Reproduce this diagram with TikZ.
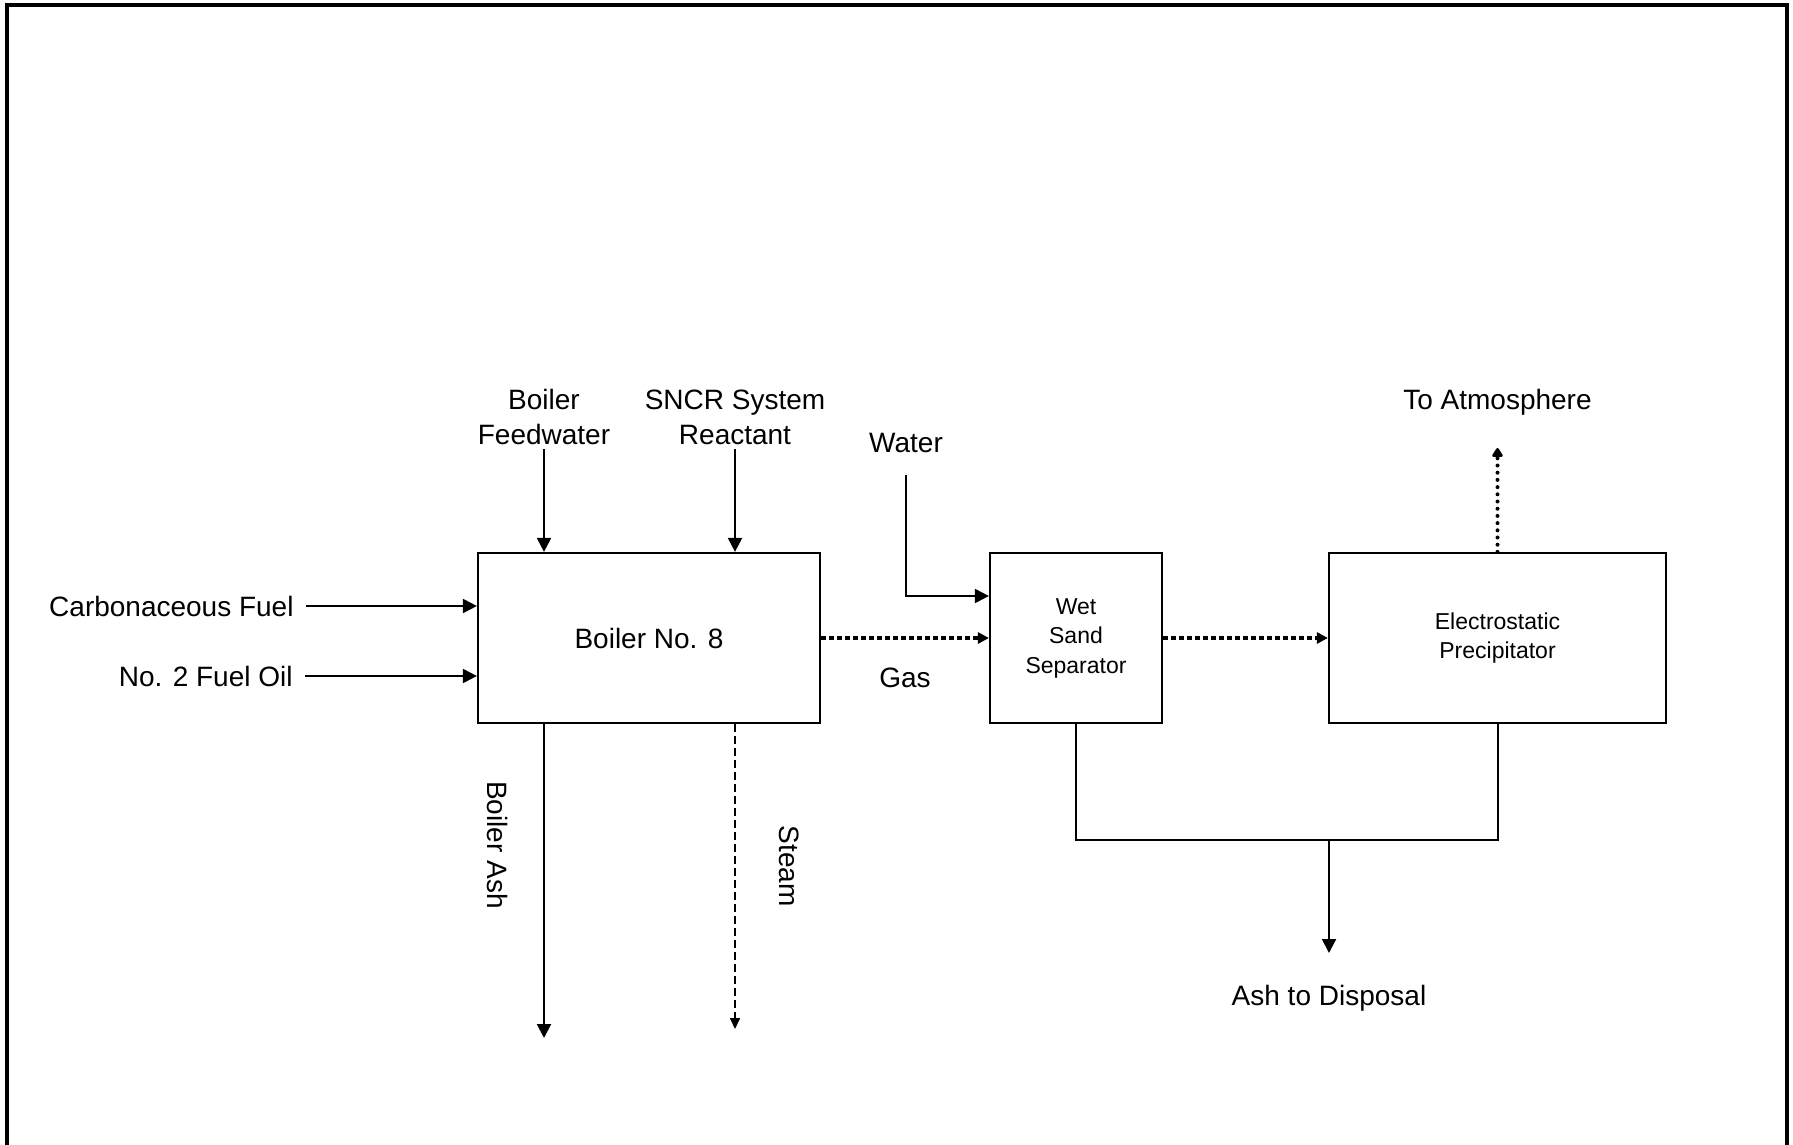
\documentclass[tikz,border=0pt]{standalone}
\usepackage{fontspec}
\setmainfont{Liberation Sans}
\usetikzlibrary{arrows.meta,positioning}

\begin{document}
\begin{tikzpicture}[
  x=0.5pt, y=-0.5pt,
  font=\fontsize{14}{17.5}\selectfont,
  unit/.style={draw, line width=1.1pt, inner sep=0pt, align=center, minimum height=85pt},
  small/.style={font=\fontsize{11.5}{14.75}\selectfont},
  lbl/.style={inner sep=2pt, align=center},
  arr/.style={-{Triangle[length=7pt, width=7pt]}, line width=1pt},
  gasarr/.style={-{Triangle[length=5.5pt, width=5.5pt]}, line width=1.6pt, dash pattern=on 2.4pt off 1.6pt},
  atmarr/.style={-{Triangle[length=5pt, width=6pt, round]}, line width=2pt, line cap=round, dash pattern=on 0pt off 3.6pt},
  steamarr/.style={-{Triangle[length=5.5pt, width=5pt]}, line width=0.8pt, dash pattern=on 4pt off 2pt},
  pipe/.style={line width=1pt}
]
\useasboundingbox (0,0) rectangle (1793,1145);
% page frame, open at the bottom
\draw[line width=2pt] (7,1145) -- (7,5) -- (1787,5) -- (1787,1145);

% process units
\node[unit, minimum width=171pt] (boiler) at (649,638) {Boiler No. 8};
\node[unit, small, minimum width=86pt] (wss) at (1076,638) {Wet\\Sand\\Separator};
\node[unit, small, minimum width=168.5pt] (esp) at (1497.5,638) {Electrostatic\\Precipitator};

% boiler inputs
\coordinate (fwin) at (544,449);
\node[lbl, above=0pt of fwin] (fw) {Boiler\\Feedwater};
\draw[arr] (fwin) -- (fwin |- boiler.north);

\coordinate (sncrin) at (735,449);
\node[lbl, above=0pt of sncrin] (sncr) {SNCR System\\Reactant};
\draw[arr] (sncrin) -- (sncrin |- boiler.north);

\coordinate (cfin) at (306,606);
\node[lbl, left=4pt of cfin] (cf) {Carbonaceous Fuel};
\draw[arr] (cfin) -- (cfin -| boiler.west);

\coordinate (oilin) at (305,676);
\node[lbl, left=4pt of oilin] (oil) {No. 2 Fuel Oil};
\draw[arr] (oilin) -- (oilin -| boiler.west);

% boiler outputs
\coordinate (ashout) at (544,1038);
\draw[arr] (ashout |- boiler.south) -- (ashout);
\node[lbl, rotate=-90] (ashlbl) at (498,845) {Boiler Ash};

\coordinate (steamout) at (735,1029);
\draw[steamarr] (steamout |- boiler.south) -- (steamout);
\node[lbl, rotate=-90] (steamlbl) at (789,866) {Steam};

% gas path
\draw[gasarr] (boiler) -- node[lbl, below=12pt] (gas) {Gas} (wss);
\draw[gasarr] (wss) -- (esp);

\coordinate (wtrin) at (906,475);
\node[lbl, above=9pt of wtrin] (water) {Water};
\draw[arr] (wtrin) |- ([yshift=21pt]wss.west);

\coordinate (atmout) at (1497.5,448);
\draw[atmarr] (esp.north) -- (atmout);
\node[lbl, above=14pt of atmout] (atm) {To Atmosphere};

% collected ash
\coordinate (bus) at (1329,840);
\draw[pipe] (wss.south) |- (bus) -| (esp.south);
\coordinate (ashdisp) at (1329,953);
\draw[arr] (bus) -- (ashdisp);
\node[lbl, below=14pt of ashdisp] (disp) {Ash to Disposal};
\end{tikzpicture}
\end{document}
